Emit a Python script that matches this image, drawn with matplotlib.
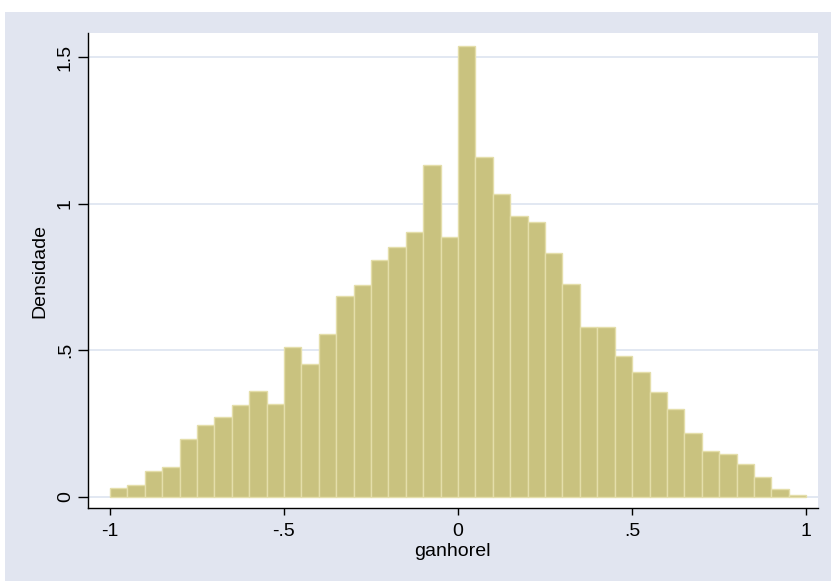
import matplotlib
matplotlib.use("Agg")
import matplotlib.pyplot as plt
from matplotlib.patches import Rectangle
import numpy as np

bin_left = [-1.00, -0.95, -0.90, -0.85, -0.80, -0.75, -0.70, -0.65, -0.60, -0.55,
            -0.50, -0.45, -0.40, -0.35, -0.30, -0.25, -0.20, -0.15, -0.10, -0.05,
            0.00, 0.05, 0.10, 0.15, 0.20, 0.25, 0.30, 0.35, 0.40, 0.45,
            0.50, 0.55, 0.60, 0.65, 0.70, 0.75, 0.80, 0.85, 0.90, 0.95]
density = [0.028, 0.039, 0.088, 0.101, 0.195, 0.244, 0.272, 0.311, 0.361, 0.317,
           0.511, 0.451, 0.556, 0.684, 0.723, 0.807, 0.850, 0.902, 1.132, 0.885,
           1.538, 1.158, 1.031, 0.958, 0.936, 0.830, 0.724, 0.580, 0.580, 0.480,
           0.424, 0.357, 0.300, 0.218, 0.156, 0.146, 0.112, 0.068, 0.025, 0.006]
bin_width = 0.05
xticks = [-1, -0.5, 0, 0.5, 1]
xticklabels = ["-1", "-.5", "0", ".5", "1"]
yticks = [0, 0.5, 1, 1.5]
yticklabels = ["0", ".5", "1", "1.5"]

plt.rcParams['font.family'] = ['Liberation Sans', 'DejaVu Sans']
FS = 14

fig = plt.figure(figsize=(8.31, 5.81), dpi=100)
fig.patch.set_facecolor('white')
bg = Rectangle((5/831, 0), 1, (581-12)/581, transform=fig.transFigure,
               facecolor='#E1E5F0', edgecolor='none', zorder=-10)
fig.patches.append(bg)

ax = fig.add_axes([88/831, 1-508/581, (818-88)/831, (508-33)/581])
ax.set_zorder(1)
ax.set_facecolor('white')
ax.bar(bin_left, density, width=bin_width, align='edge',
       color='#C9C27F', edgecolor='#E4DEAA', linewidth=1.0, zorder=3)

ax.set_xlim(-1.063, 1.034)
ax.set_ylim(-0.039, 1.582)
ax.set_xticks(xticks)
ax.set_xticklabels(xticklabels, fontsize=FS)
ax.set_yticks(yticks)
ax.set_yticklabels(yticklabels, fontsize=FS, rotation=90, va='center')
ax.grid(axis='y', color='#DDE4F0', linewidth=1.2, zorder=1)
ax.set_axisbelow(True)
for s in ['top', 'right']:
    ax.spines[s].set_visible(False)
for s in ['left', 'bottom']:
    ax.spines[s].set_color('black')
    ax.spines[s].set_linewidth(1.0)
ax.tick_params(axis='x', direction='out', length=5, width=1, colors='black', pad=6)
ax.tick_params(axis='y', direction='out', length=7, width=1, colors='black', pad=3.2)
ax.set_xlabel('ganhorel', fontsize=FS, va='baseline')
ax.xaxis.set_label_coords(0.4986, -0.101)
ax.set_ylabel('Densidade', fontsize=FS, va='center')
ax.yaxis.set_label_coords(-0.0658, 0.5)

fig.savefig('out.png', dpi=100, facecolor=fig.get_facecolor())
